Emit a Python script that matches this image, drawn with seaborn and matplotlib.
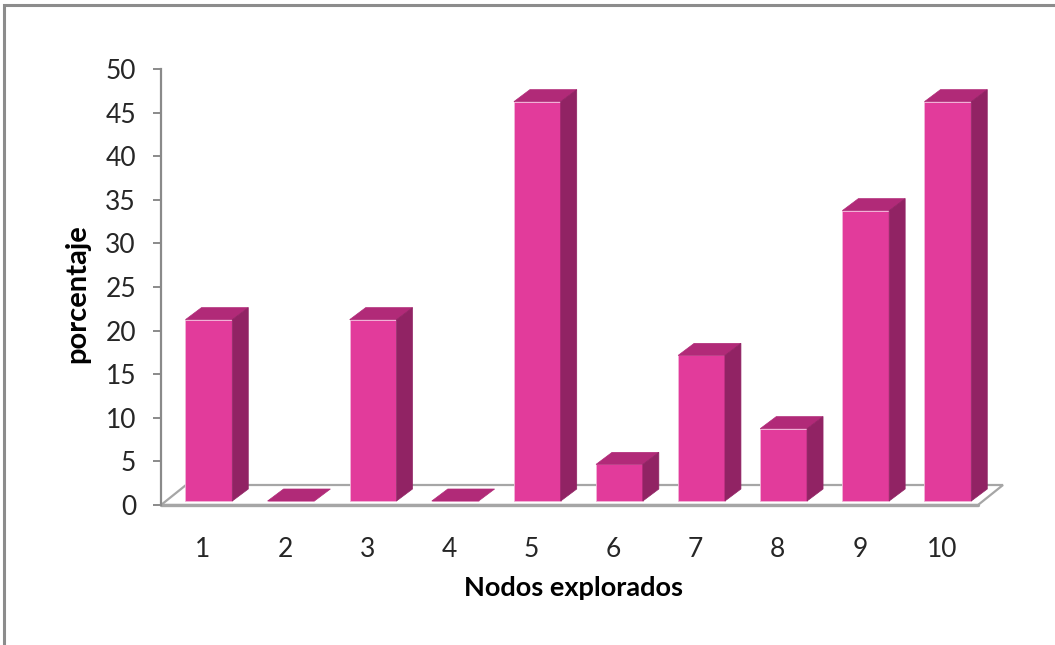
import matplotlib
matplotlib.use("Agg")
import matplotlib.pyplot as plt
import pandas as pd
import seaborn as sns
from matplotlib.patches import Polygon, Rectangle
from matplotlib.lines import Line2D

# Percentage of runs per number of explored nodes
nodos = ["1", "2", "3", "4", "5", "6", "7", "8", "9", "10"]
porcentaje = [20.8, 0.0, 20.8, 0.0, 45.8, 4.2, 16.7, 8.3, 33.3, 45.8]
y_ticks = [0, 5, 10, 15, 20, 25, 30, 35, 40, 45, 50]

FRONT = "#E23B9B"
TOP = "#B12A78"
SIDE = "#912364"
GRID_GREY = "#a6a6a6"
TEXT = "#262626"

sns.set_theme(style="white")
plt.rcParams["font.family"] = ["Lato", "DejaVu Sans"]

W, H = 1055, 645
fig = plt.figure(figsize=(W / 100, H / 100), dpi=100)
fig.patch.set_facecolor("white")
ax = fig.add_axes([161 / W, 140 / H, 817 / W, 436 / H])

df = pd.DataFrame({"nodo": nodos, "pct": porcentaje})
sns.barplot(data=df, x="nodo", y="pct", order=nodos, color=FRONT,
            saturation=1, width=0.57, ax=ax, zorder=4)

ax.set_xlim(-0.51, 9.44)
ax.set_ylim(0, 50)
ax.set_yticks(y_ticks)

# pixel -> data unit conversion for the pseudo-3D depth
ppx = ax.bbox.width / (ax.get_xlim()[1] - ax.get_xlim()[0])
ppy = ax.bbox.height / (ax.get_ylim()[1] - ax.get_ylim()[0])

# floor depth and bar placement inside it (pixels)
floor_dx, floor_dy = 25, 20
front_dx, front_dy = 6, 4
depth_dx, depth_dy = 16, 12

fx, fy = floor_dx / ppx, floor_dy / ppy
x0, x1 = ax.get_xlim()
floor = Polygon([(x0, 0), (x1, 0), (x1 + fx, fy), (x0 + fx, fy)],
                closed=True, facecolor="white", edgecolor=GRID_GREY,
                lw=1.6, zorder=1, clip_on=False)
ax.add_patch(floor)
ax.add_line(Line2D([x0, x1], [0, 0], color=GRID_GREY, lw=2.4,
                   zorder=1.5, clip_on=False))

ox, oy = front_dx / ppx, front_dy / ppy
dx, dy = depth_dx / ppx, depth_dy / ppy
for bar in list(ax.patches):
    if bar is floor:
        continue
    bx, bw, bh = bar.get_x(), bar.get_width(), bar.get_height()
    bar.set_x(bx + ox)
    bar.set_y(oy)
    bar.set_clip_on(False)
    bar.set_edgecolor("#f2b5d8")
    bar.set_linewidth(0.6)
    l, r, t, b = bx + ox, bx + ox + bw, bh + oy, oy
    top = Polygon([(l, t), (r, t), (r + dx, t + dy), (l + dx, t + dy)],
                  closed=True, facecolor=TOP, edgecolor=TOP, lw=0.5,
                  zorder=4, clip_on=False)
    ax.add_patch(top)
    if bh > 0:
        side = Polygon([(r, b), (r + dx, b + dy), (r + dx, t + dy), (r, t)],
                       closed=True, facecolor=SIDE, edgecolor=SIDE, lw=0.5,
                       zorder=4, clip_on=False)
        ax.add_patch(side)

for s in ["top", "right", "bottom"]:
    ax.spines[s].set_visible(False)
ax.spines["left"].set_color("#8a8a8a")
ax.spines["left"].set_linewidth(1.6)
ax.set_facecolor("none")

ax.tick_params(axis="y", left=True, length=6, width=1.4, color="#8a8a8a",
               pad=12, labelsize=19, labelcolor=TEXT)
ax.tick_params(axis="x", bottom=False, length=0, pad=23, labelsize=19,
               labelcolor=TEXT)

ax.set_xlabel("Nodos explorados", fontsize=19.5, fontweight="bold", color="black")
ax.set_ylabel("porcentaje", fontsize=21, fontweight="bold", color="black")
ax.xaxis.set_label_coords((573 - 161) / 817, (505 - 588) / 436)
ax.yaxis.set_label_coords((77 - 161) / 817, (505 - 294) / 436)
ax.xaxis.label.set_va("center")
ax.yaxis.label.set_va("center")

# chart area border
fig.add_artist(Rectangle((3.5 / W, -0.1), 1.2, (H - 5) / H + 0.1,
                         transform=fig.transFigure, fill=False,
                         edgecolor="#8c8c8c", lw=2.2))

fig.savefig("out.png", dpi=100)
